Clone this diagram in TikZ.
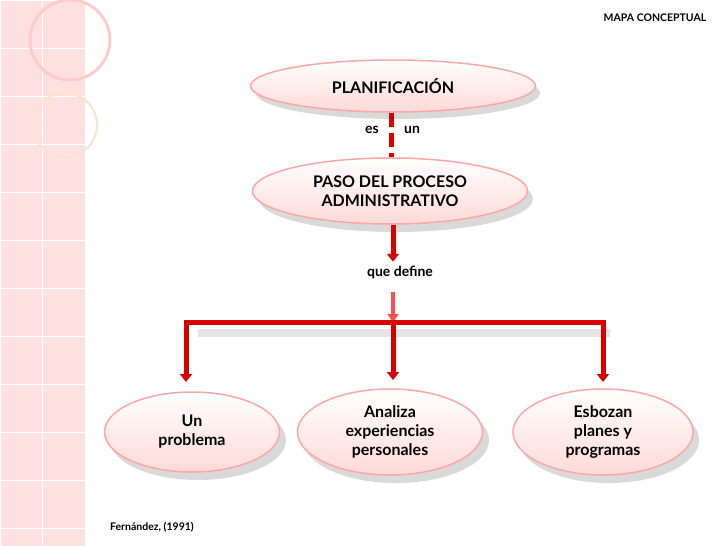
\documentclass[tikz,border=0pt]{standalone}
\usepackage{fontspec}
\setmainfont{Lato}
\usetikzlibrary{shapes.geometric,arrows.meta}
\begin{document}
\begin{tikzpicture}[x=1pt,y=-1pt,
 oval/.style={ellipse,draw=red!35!white,line width=1.5pt,top color=white,bottom color=red!15,font=\bfseries\fontsize{16}{19}\selectfont,align=center,inner sep=0pt},
 lbl/.style={font=\bfseries\fontsize{14}{16}\selectfont},
 redline/.style={draw=red!85!black,line width=5pt},
 arr/.style={red!85!black,line width=5pt,-{Triangle[length=8pt,width=12pt]}}]
\useasboundingbox (0,0) rectangle (728,546);
\fill[white] (0,0) rectangle (728,546);
\fill[red!12!white] (0,0) rectangle (85,546);
\foreach \y in {0,48,...,546} \draw[white,line width=1pt] (0,\y) -- (85,\y);
\foreach \x in {0,42} \draw[white,line width=1pt] (\x,0) -- (\x,546);
\draw[white!80!red,line width=3pt] (70,40) circle (40);
\draw[black!10!orange!20,line width=2pt] (65,125) circle (32);
\node[font=\bfseries\fontsize{10.5}{12}\selectfont] (title) at (655,18) {MAPA CONCEPTUAL};
\node[font=\bfseries\fontsize{10.5}{12}\selectfont] (ref) at (152,527) {Fernández, (1991)};
\fill[black!15] (398,93) ellipse (142 and 26);
\node[oval,minimum width=285,minimum height=52] (plan) at (393,86) {PLANIFICACIÓN};
\fill[black!15] (396,199) ellipse (137 and 33);
\node[oval,minimum width=275,minimum height=66] (paso) at (390,191) {PASO DEL PROCESO\\ADMINISTRATIVO};
\node[lbl] (es) at (372,130) {es};
\node[lbl] (un) at (412,130) {un};
\draw[redline,dash pattern=on 14pt off 6pt] (plan.south) ++(-2,0) coordinate (p1) -- (p1 |- paso.north);
\node[lbl] (qd) at (400,272) {que define};
\coordinate (bar) at (393,322);
\draw[arr] (paso.south) ++(3,0) -- ++(0,37);
\draw[red!70,line width=4pt,-{Triangle[length=8pt,width=11pt]}] (393,292) -- (bar);
\fill[black!10] (198,329) rectangle (610,337);
\fill[black!15] (198,440) ellipse (88 and 40);
\fill[black!15] (396,440) ellipse (93 and 43);
\fill[black!15] (609,440) ellipse (90 and 43);
\node[oval,minimum width=175,minimum height=80] (b1) at (192,432) {Un\\problema};
\node[oval,minimum width=185,minimum height=86] (b2) at (390,432) {Analiza\\experiencias\\personales};
\node[oval,minimum width=180,minimum height=86] (b3) at (603,432) {Esbozan\\planes y\\programas};
\draw[redline] (186,322) -- (603,322);
\draw[arr] (186,320) -- (186,382);
\draw[arr] (bar) -- (393,380);
\draw[arr] (603,320) -- (603,382);
\end{tikzpicture}
\end{document}
